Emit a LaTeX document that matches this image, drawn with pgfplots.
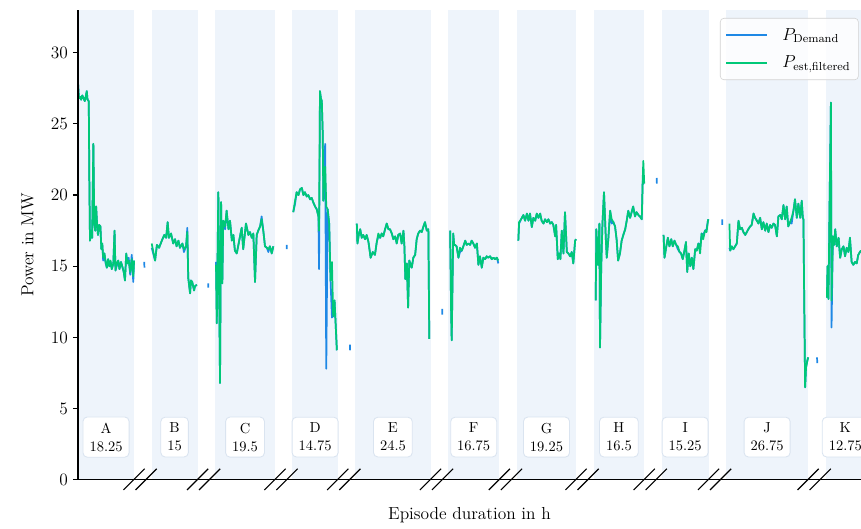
\documentclass[border=0pt]{standalone}
\usepackage{pgfplots}
\pgfplotsset{compat=1.18}
\usepackage{pgfplotstable}
\usetikzlibrary{calc}
\definecolor{demand}{RGB}{30,136,229}
\definecolor{estc}{RGB}{0,200,120}
\definecolor{band}{RGB}{238,244,251}
\definecolor{boxedge}{RGB}{218,228,240}
\newcommand{\bigfont}{\fontsize{12}{14.4}\selectfont}

\pgfplotstableread{
h dem est
0.00 27.9 27.9
0.3 26.8 26.8
0.7 26.9 26.9
1.0 26.7 26.7
1.4 27.0 27.0
1.8 26.8 26.8
2.2 26.6 26.6
2.6 27.0 27.0
2.85 27.3 27.3
3.1 26.7 26.7
3.5 26.6 26.6
3.7 21.0 21.0
3.9 16.8 16.8
4.3 17.5 17.5
4.6 17.0 17.0
5.0 23.6 23.6
5.3 18.0 18.0
5.6 17.5 17.5
5.9 19.2 19.2
6.2 18.0 18.0
6.5 17.2 17.2
6.9 17.9 17.9
7.3 17.8 17.8
7.6 16.2 16.2
7.9 16.6 16.6
8.2 15.4 15.6
8.6 15.9 15.9
9.0 15.2 15.3
9.4 14.9 14.9
9.8 15.5 15.5
10.2 15.0 15.0
10.6 15.3 15.4
11.0 14.8 14.8
11.5 15.2 15.2
11.9 17.5 17.5
12.2 14.7 14.7
12.6 15.0 15.2
13.1 15.4 15.4
13.5 14.8 14.8
14.0 15.3 15.3
14.4 15.0 15.0
14.9 14.6 14.6
15.3 14.0 14.0
15.7 15.9 15.9
16.1 15.2 15.2
16.5 15.6 15.4
17.0 14.4 14.6
17.5 15.8 15.5
18.0 13.9 14.3
18.25 15.4 15.4
nan nan nan
21.6 15.3 nan
21.62 14.9 nan
nan nan nan
24.0 16.3 16.6
25.1 15.4 15.4
25.7 16.5 16.5
26.4 16.3 16.3
27.3 16.8 16.8
28.1 17.2 17.2
28.7 17.0 17.0
29.2 18.1 18.1
29.6 17.0 17.0
30.3 17.3 17.3
31.0 16.6 16.6
31.6 16.9 16.9
32.1 16.4 16.4
32.7 16.8 16.8
33.2 16.3 16.3
34.0 16.6 16.6
34.5 16.0 16.2
35.2 16.4 16.4
35.6 17.7 17.4
35.9 14.2 14.2
36.5 13.1 13.1
36.8 14.0 14.0
37.2 13.9 13.9
37.8 13.3 13.3
38.1 13.6 13.6
38.7 13.7 13.7
nan nan nan
42.4 13.8 nan
42.42 13.5 nan
nan nan nan
44.95 15.3 15.1
45.2 11.0 11.0
45.7 20.2 20.2
46.25 6.8 6.8
46.6 19.5 19.5
47.0 13.8 13.8
47.3 18.2 18.2
47.9 17.6 17.8
48.4 18.9 18.9
49.0 17.6 17.6
49.5 18.2 18.2
50.1 16.8 16.8
50.6 17.2 17.2
51.1 16.1 16.1
51.7 15.9 15.9
52.5 16.8 16.8
53.3 17.7 17.7
53.8 16.2 16.2
54.7 18.0 18.0
55.5 17.2 17.2
56.0 17.4 17.4
56.6 17.0 17.0
57.1 17.3 17.3
57.65 13.9 13.9
58.2 17.2 17.2
58.7 17.5 17.5
59.3 17.8 17.8
59.8 18.5 18.3
60.4 17.4 17.4
60.9 16.4 16.4
61.5 16.3 16.3
62.0 16.0 16.2
62.5 16.4 16.4
63.1 15.9 15.9
63.6 16.4 16.4
nan nan nan
68.0 16.5 nan
68.02 16.2 nan
nan nan nan
70.1 18.8 18.8
70.7 19.4 19.6
71.2 20.2 20.2
71.8 20.0 20.0
72.3 20.4 20.4
72.9 20.5 20.5
73.4 20.0 20.0
73.9 20.2 20.2
74.5 19.9 19.9
75.0 20.0 20.0
75.6 19.7 19.7
76.1 19.8 19.8
76.6 19.5 19.5
77.2 19.2 19.2
77.75 19.0 19.0
78.3 18.5 18.5
78.5 14.8 17.5
78.8 27.3 27.3
79.1 26.8 26.8
79.4 26.6 26.6
79.7 24.3 24.3
79.9 19.6 19.6
80.1 21.5 21.5
80.5 23.6 22.0
80.85 7.8 19.2
81.3 19.0 19.0
81.8 18.0 18.0
82.25 14.0 14.0
82.7 11.4 15.3
83.1 11.5 11.5
83.55 12.6 12.6
84.3 9.1 9.1
nan nan nan
88.6 9.5 nan
88.62 9.1 nan
nan nan nan
90.8 18.0 18.0
91.0 16.6 16.6
91.5 17.3 17.3
91.9 17.6 17.6
92.4 17.0 17.0
92.9 17.2 17.2
93.5 16.9 16.9
94.0 17.2 17.2
94.6 16.7 16.7
95.3 15.6 15.6
96.0 16.0 16.0
96.7 15.8 15.8
97.3 16.7 16.7
97.8 17.1 17.3
98.4 17.0 17.0
98.9 17.3 17.3
99.4 17.1 17.1
100.0 17.6 17.6
100.55 18.0 18.0
101.1 17.6 17.6
101.6 17.6 17.6
102.2 17.3 17.3
102.7 16.9 16.9
103.3 17.1 17.1
103.8 16.6 16.6
104.3 17.2 17.2
104.9 17.3 17.3
105.4 16.6 16.6
106.0 17.5 17.5
106.3 16.4 16.4
106.6 14.1 14.1
107.1 15.2 15.2
107.5 12.1 12.1
107.9 15.4 15.4
108.7 14.9 14.9
109.2 15.6 15.6
109.8 15.8 15.8
110.3 16.9 16.9
110.8 17.3 17.3
111.4 17.5 17.5
111.95 17.4 17.4
112.5 17.8 17.8
113.0 18.1 18.1
113.6 17.5 17.5
114.1 17.6 17.6
114.4 9.9 9.9
nan nan nan
118.6 12.0 nan
118.62 11.6 nan
nan nan nan
121.2 17.5 17.5
121.5 12.0 12.0
121.7 9.8 9.8
122.2 17.3 17.3
122.5 16.5 16.5
122.8 16.5 16.5
123.3 16.4 16.4
123.9 15.6 15.6
124.4 16.0 16.3
125.0 16.1 16.1
125.5 16.4 16.4
126.1 16.8 16.8
126.6 16.5 16.5
127.1 16.6 16.6
127.7 16.5 16.5
128.2 16.8 16.8
128.75 16.6 16.6
129.3 16.3 16.3
129.9 16.6 16.6
130.4 15.1 15.1
130.9 15.7 15.7
131.5 14.9 14.9
132.0 15.6 15.6
132.6 15.5 15.5
133.1 15.7 15.7
133.6 15.6 15.6
134.2 15.7 15.7
134.75 15.5 15.5
135.3 15.6 15.6
135.8 15.5 15.5
136.4 15.6 15.6
136.9 15.2 15.4
nan nan nan
143.4 16.8 16.8
143.65 18.0 18.1
144.3 18.3 18.3
145.05 18.6 18.6
145.6 18.2 18.2
146.2 18.7 18.7
146.7 18.2 18.2
147.2 18.7 18.7
147.8 17.75 17.75
148.3 18.4 18.4
148.9 18.2 18.2
149.4 18.7 18.7
149.95 18.4 18.4
150.5 18.7 18.7
151.0 18.2 18.2
151.6 18.0 18.0
152.1 18.3 18.3
152.7 18.1 18.1
153.2 18.3 18.3
153.75 18.0 18.0
154.3 18.1 18.1
154.8 17.9 17.9
155.4 17.1 17.1
155.7 17.9 17.9
156.25 15.5 15.5
156.7 15.9 15.9
157.1 15.5 15.5
157.55 17.5 17.5
158.1 15.9 15.9
158.6 18.8 18.8
159.2 16.0 16.0
159.7 15.9 15.9
160.3 15.7 15.7
160.8 16.0 16.0
161.3 15.2 15.2
161.9 16.8 16.8
162.2 16.9 16.9
nan nan nan
168.6 12.6 12.6
168.8 17.6 17.6
169.3 15.1 15.1
169.8 18.0 18.0
170.0 9.3 9.3
170.4 15.0 15.0
170.8 18.0 18.0
171.3 20.2 20.2
171.9 16.9 16.9
172.2 15.6 15.6
172.7 16.9 16.9
173.3 18.9 18.9
173.8 18.0 18.3
174.35 18.1 18.1
174.9 17.8 17.8
175.4 16.9 16.9
175.9 15.4 15.4
176.5 15.9 15.9
177.05 16.8 16.8
177.6 17.2 17.2
178.2 17.6 17.6
178.7 18.2 18.2
179.2 18.9 18.9
179.8 18.4 18.4
180.3 18.8 18.8
180.8 19.2 19.2
181.4 18.5 18.5
181.9 18.8 18.8
182.5 18.6 18.6
183.0 18.5 18.5
183.6 18.3 18.3
183.9 21.0 21.0
184.1 20.8 22.4
184.4 20.8 20.8
nan nan nan
188.5 21.2 nan
188.52 20.8 nan
nan nan nan
190.7 17.2 17.2
191.0 15.6 15.6
191.6 16.4 16.4
192.1 17.0 17.0
192.6 16.4 16.4
193.2 16.9 16.9
193.7 16.4 16.4
194.25 16.8 16.8
194.8 16.5 16.5
195.35 16.2 16.4
195.9 16.0 16.0
196.4 15.9 15.9
196.95 15.5 15.5
197.5 16.1 16.1
198.0 16.7 16.7
198.4 14.6 14.6
198.9 15.9 15.9
199.4 15.0 15.0
199.9 15.6 15.6
200.4 14.8 14.8
201.0 16.2 16.2
201.5 16.1 16.1
202.05 16.6 16.6
202.6 16.3 15.9
203.1 17.3 17.3
203.6 17.2 16.9
204.2 17.5 17.5
204.7 17.6 17.4
205.15 18.2 18.2
205.3 18.3 18.3
nan nan nan
209.8 18.3 nan
209.82 17.9 nan
nan nan nan
212.15 16.3 18.0
212.4 16.1 16.1
212.9 16.4 16.4
213.45 16.2 16.2
214.0 16.4 16.4
214.55 16.6 16.6
215.1 18.2 18.2
215.6 17.6 17.6
216.2 17.7 17.7
216.7 17.4 17.4
217.3 17.2 17.2
217.8 17.4 17.4
218.3 17.6 17.6
218.9 17.8 17.8
219.4 17.9 17.9
220.0 18.7 18.7
220.5 18.4 18.4
221.1 18.2 18.2
221.6 18.0 18.0
222.15 18.4 18.4
222.7 17.6 17.6
223.2 18.1 18.1
223.8 17.5 17.5
224.3 18.0 18.0
224.85 17.4 17.4
225.4 17.9 17.9
225.9 17.7 17.7
226.5 18.0 18.0
227.0 17.9 17.9
227.6 17.1 17.1
228.1 18.5 18.5
228.7 18.6 18.6
229.2 18.3 18.3
229.75 19.3 19.3
230.3 18.3 18.3
230.8 19.2 19.2
231.3 17.8 17.8
231.9 18.1 18.1
232.4 18.0 18.4
233.0 18.9 18.9
233.5 19.7 19.7
234.1 18.4 18.4
234.6 19.4 19.4
235.2 18.4 18.4
235.7 19.6 19.6
236.05 18.4 18.4
236.25 18.3 18.3
236.5 12.8 12.8
236.8 6.5 6.5
237.1 7.9 7.9
237.55 8.4 8.4
237.8 8.6 8.6
nan nan nan
240.7 8.6 nan
240.72 8.2 nan
nan nan nan
243.9 12.8 12.8
244.1 15.0 15.0
244.4 12.7 12.7
244.8 20.0 20.0
245.2 26.5 26.5
245.4 10.7 12.6
245.85 17.1 17.1
246.25 16.5 16.5
246.6 17.6 17.6
247.1 16.4 16.4
247.7 17.0 17.0
248.2 15.6 15.6
248.75 16.2 16.2
249.3 16.4 16.4
249.8 15.7 15.7
250.35 16.3 16.3
250.9 16.0 16.0
251.4 17.0 17.0
251.95 15.3 15.3
252.5 15.1 15.1
253.05 15.3 15.3
253.6 15.2 15.2
254.1 15.8 15.8
254.65 16.0 16.0
255.0 16.1 16.1
}\power

\begin{document}
\begin{tikzpicture}
\begin{axis}[
  name=ax,
  scale only axis,
  width=540pt, height=324pt,
  xmin=0, xmax=255, ymin=0, ymax=33,
  clip=false,
  axis on top,
  axis lines*=left,
  axis line style={line width=0.8pt, black},
  xtick=\empty,
  ytick={0,5,10,15,20,25,30},
  tick align=outside,
  major tick length=3.5pt,
  every tick/.style={line width=0.8pt, black},
  /pgf/number format/assume math mode=true,
  yticklabel style={font=\bigfont},
  every tick label/.append style={font=\bigfont},
  xlabel={Episode duration in h},
  ylabel={Power in MW},
  every axis x label/.style={at={(axis description cs:0.5,0)}, anchor=north, yshift=-15.3pt, font=\bigfont},
  every axis y label/.style={at={(axis description cs:-0.05,0.5)}, rotate=90, anchor=south, font=\bigfont},
  unbounded coords=jump,
  legend cell align=left,
  legend style={at={(axis description cs:0.997,0.983)}, anchor=north east,
    draw=gray!35, rounded corners=2.5pt, fill=white, fill opacity=0.8, text opacity=1,
    font=\bigfont, row sep=5pt, column sep=8pt, inner xsep=3.5pt, inner ysep=5pt},
  legend image code/.code={\draw[#1, line width=1.4pt] (0pt,0pt) -- (28pt,0pt);},
]
% episode bands
\addplot[fill=band, draw=none, forget plot] coordinates {(0,0)(0,33)(18.25,33)(18.25,0)} -- cycle;
\addplot[fill=band, draw=none, forget plot] coordinates {(23.95,0)(23.95,33)(38.95,33)(38.95,0)} -- cycle;
\addplot[fill=band, draw=none, forget plot] coordinates {(44.65,0)(44.65,33)(64.15,33)(64.15,0)} -- cycle;
\addplot[fill=band, draw=none, forget plot] coordinates {(69.85,0)(69.85,33)(84.6,33)(84.6,0)} -- cycle;
\addplot[fill=band, draw=none, forget plot] coordinates {(90.3,0)(90.3,33)(114.8,33)(114.8,0)} -- cycle;
\addplot[fill=band, draw=none, forget plot] coordinates {(120.5,0)(120.5,33)(137.25,33)(137.25,0)} -- cycle;
\addplot[fill=band, draw=none, forget plot] coordinates {(142.95,0)(142.95,33)(162.2,33)(162.2,0)} -- cycle;
\addplot[fill=band, draw=none, forget plot] coordinates {(167.9,0)(167.9,33)(184.4,33)(184.4,0)} -- cycle;
\addplot[fill=band, draw=none, forget plot] coordinates {(190.1,0)(190.1,33)(205.35,33)(205.35,0)} -- cycle;
\addplot[fill=band, draw=none, forget plot] coordinates {(211.05,0)(211.05,33)(237.8,33)(237.8,0)} -- cycle;
\addplot[fill=band, draw=none, forget plot] coordinates {(243.5,0)(243.5,33)(255,33)(255,0)} -- cycle;

% data
\addplot[demand, line width=1.2pt, line join=round] table[x=h, y=dem] {\power};
\addlegendentry{$P_{\mathrm{Demand}}$}
\addplot[estc, line width=1.2pt, line join=round] table[x=h, y=est] {\power};
\addlegendentry{$P_{\mathrm{est,filtered}}$}

% episode label boxes
\tikzset{epbox/.style={draw=boxedge, line width=0.6pt, fill=white, rounded corners=3pt, align=center,
  inner xsep=4.5pt, inner ysep=4pt, font=\fontsize{10}{12.4}\selectfont}}
\node[epbox] at (axis cs:9.125,3.0) {A\\18.25};
\node[epbox] at (axis cs:31.45,3.0) {B\\15};
\node[epbox] at (axis cs:54.4,3.0) {C\\19.5};
\node[epbox] at (axis cs:77.225,3.0) {D\\14.75};
\node[epbox] at (axis cs:102.55,3.0) {E\\24.5};
\node[epbox] at (axis cs:128.875,3.0) {F\\16.75};
\node[epbox] at (axis cs:152.575,3.0) {G\\19.25};
\node[epbox] at (axis cs:176.15,3.0) {H\\16.5};
\node[epbox] at (axis cs:197.725,3.0) {I\\15.25};
\node[epbox] at (axis cs:224.425,3.0) {J\\26.75};
\node[epbox] at (axis cs:249.875,3.0) {K\\12.75};

% axis break marks
\pgfplotsinvokeforeach{18.25,38.95,64.15,84.6,114.8,137.25,162.2,184.4,205.35,237.8}{
  \draw[line width=0.8pt, black] (axis cs:#1,0) ++(-7.3pt,-7pt) -- ++(14.6pt,14.6pt);
  \draw[line width=0.8pt, black] (axis cs:#1,0) ++(8.3pt,0pt) ++(-7.3pt,-7pt) -- ++(14.6pt,14.6pt);
}
\end{axis}
\pgfresetboundingbox
\path ($(ax.south west)+(-53.8pt,-33.8pt)$) rectangle ($(ax.north east)+(0pt,6.9pt)$);
\end{tikzpicture}
\end{document}
